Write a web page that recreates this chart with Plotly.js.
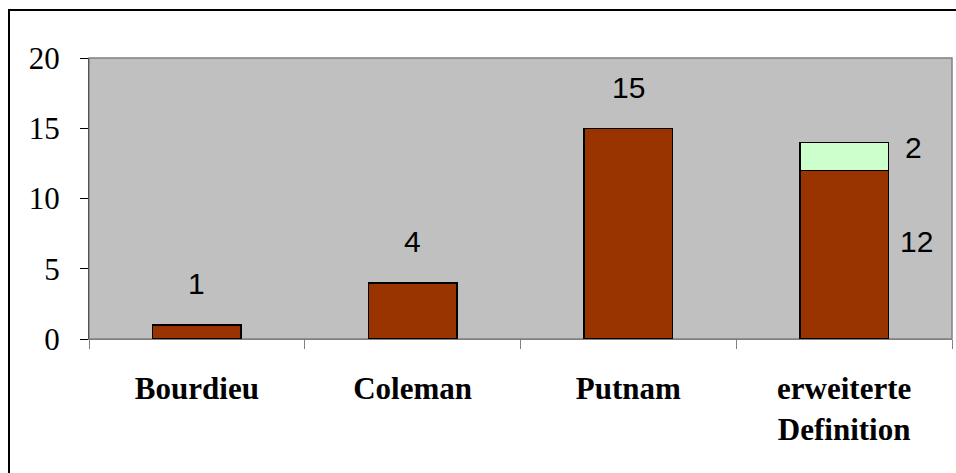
<!DOCTYPE html>
<html>
<head>
<meta charset="utf-8">
<script src="https://cdn.plot.ly/plotly-3.0.1.min.js"></script>
<style>
html,body{margin:0;padding:0;background:#fff;overflow:hidden;}
#frame{position:absolute;left:8px;top:9px;width:1000px;height:1000px;border:2px solid #000;pointer-events:none;z-index:2;}
#chart{position:absolute;left:0;top:0;width:956px;height:473px;z-index:1;}
</style>
</head>
<body>
<div id="frame"></div>
<div id="chart"></div>
<script>
const categories = ["Bourdieu", "Coleman", "Putnam", "erweiterte<br>Definition"];
const baseValues = [1, 4, 15, 12];
const extraValues = [0, 0, 0, 2];

const serif = "Liberation Serif, Times New Roman, serif";
const sans = "Liberation Sans, Arial, sans-serif";

const traces = [
  {type: "bar", x: categories, y: baseValues,
   marker: {color: "#993300", line: {color: "#000", width: 1.5}},
   hoverinfo: "skip"},
  {type: "bar", x: categories, y: extraValues,
   marker: {color: "#CCFFCC", line: {color: "#000", width: 1.5}},
   hoverinfo: "skip"}
];

const annotations = [];
categories.forEach((c, i) => {
  if (extraValues[i] === 0) {
    annotations.push({x: c, y: baseValues[i], xref: "x", yref: "y", text: String(baseValues[i]),
      showarrow: false, yshift: 41, font: {family: sans, size: 30, color: "#000"}});
  } else {
    annotations.push({x: c, y: baseValues[i] / 2, xref: "x", yref: "y", text: String(baseValues[i]),
      showarrow: false, xshift: 72, yshift: 13, font: {family: sans, size: 30, color: "#000"}});
    annotations.push({x: c, y: baseValues[i] + extraValues[i] / 2, xref: "x", yref: "y", text: String(extraValues[i]),
      showarrow: false, xshift: 69, yshift: 9, font: {family: sans, size: 30, color: "#000"}});
  }
});

const layout = {
  width: 956, height: 473,
  margin: {l: 89, r: 4, t: 58, b: 134, pad: 0},
  paper_bgcolor: "rgba(0,0,0,0)",
  plot_bgcolor: "#C0C0C0",
  barmode: "stack",
  bargap: 0.59,
  showlegend: false,
  xaxis: {
    type: "category",
    tickson: "boundaries",
    ticks: "outside", ticklen: 9, tickcolor: "#808080", tickwidth: 1,
    showline: true, linecolor: "#808080", linewidth: 1,
    showgrid: false,
    ticklabelstandoff: 22,
    tickfont: {family: serif, size: 31, color: "#000", weight: "bold"}
  },
  yaxis: {
    range: [0, 20], dtick: 5, tick0: 0,
    ticks: "outside", ticklen: 8, tickcolor: "#000", tickwidth: 1,
    showline: true, linecolor: "#555", linewidth: 1,
    showgrid: false, zeroline: false,
    ticklabelstandoff: 14,
    tickfont: {family: serif, size: 31, color: "#000"}
  },
  shapes: [
    {type: "rect", xref: "paper", yref: "paper", x0: 0, x1: 1, y0: 0, y1: 1,
     line: {color: "#808080", width: 1.5}, layer: "below"}
  ],
  annotations: annotations
};

Plotly.newPlot("chart", traces, layout, {staticPlot: true, displayModeBar: false});
</script>
</body>
</html>
